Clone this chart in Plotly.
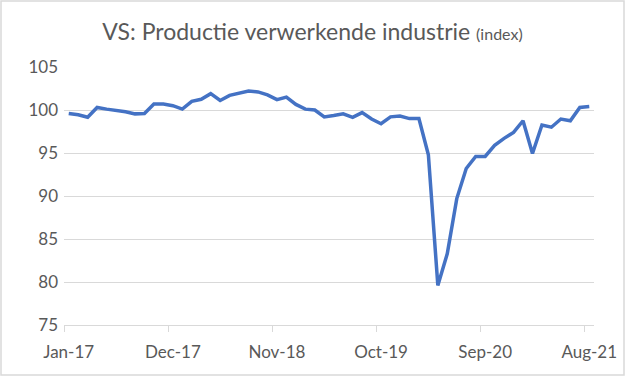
import plotly.graph_objects as go

months = ["Jan","Feb","Mar","Apr","May","Jun","Jul","Aug","Sep","Oct","Nov","Dec"]
labels = []
for yr in range(17, 22):
    for m in months:
        labels.append(f"{m}-{yr}")
labels = labels[:56]  # Jan-17 .. Aug-21

values = [99.6, 99.45, 99.15, 100.3, 100.1, 100.0, 99.8, 99.55, 99.6, 100.7,
          100.7, 100.5, 100.1, 101.0, 101.25, 101.9, 101.1, 101.7, 101.9, 102.2,
          102.1, 101.75, 101.2, 101.5, 100.65, 100.1, 100.0, 99.2, 99.35, 99.55,
          99.15, 99.7, 98.95, 98.4, 99.2, 99.3, 99.0, 99.0, 94.8, 79.6,
          83.3, 89.7, 93.2, 94.6, 94.6, 95.9, 96.7, 97.4, 98.75, 94.95,
          98.25, 98.0, 98.95, 98.75, 100.3, 100.4]

tick_idx = [0, 11, 22, 33, 44, 55]
tick_text = [labels[i] for i in tick_idx]
y_ticks = [75, 80, 85, 90, 95, 100, 105]

x = list(range(len(values)))

fig = go.Figure()
fig.add_trace(go.Scatter(x=x, y=values, mode="lines",
                         line=dict(color="#4472C4", width=3.5),
                         hoverinfo="skip", showlegend=False))

ml, mr, mt, mb = 64, 31, 67, 51
W, H = 625, 376
pw, ph = W - ml - mr, H - mt - mb

fig.update_layout(
    width=W, height=H,
    margin=dict(l=ml, r=mr, t=mt, b=mb, autoexpand=False),
    paper_bgcolor="white", plot_bgcolor="white",
    font=dict(family="Lato, Open Sans, sans-serif", color="#595959", size=17),
    title=dict(
        text="VS: Productie verwerkende industrie <span style='font-size:16px'>(index)</span>",
        x=0.5, xanchor="center", y=0.915, yanchor="middle",
        font=dict(size=23, color="#595959", family="Lato, Open Sans, sans-serif"),
    ),
    xaxis=dict(
        range=[-0.5, len(values) - 0.5],
        tickmode="array", tickvals=tick_idx, ticktext=tick_text,
        ticks="", showgrid=False, zeroline=False,
        showline=True, linecolor="#d9d9d9", linewidth=1,
        minor=dict(tickmode="array", tickvals=[i - 0.5 for i in tick_idx],
                   ticks="outside", ticklen=6, tickcolor="#d9d9d9", showgrid=False),
        tickfont=dict(size=17, color="#595959"),
        ticklabelstandoff=12,
    ),
    yaxis=dict(
        range=[75, 105], tickmode="array", tickvals=y_ticks,
        showgrid=True, gridcolor="#d9d9d9", gridwidth=1,
        zeroline=False, showline=False, ticks="",
        tickfont=dict(size=17, color="#595959"),
        ticklabelstandoff=5,
    ),
    shapes=[dict(type="rect", xref="paper", yref="paper",
                 x0=-(ml - 1) / pw, x1=1 + (mr - 1) / pw,
                 y0=-(mb - 1) / ph, y1=1 + (mt - 1) / ph,
                 line=dict(color="#d9d9d9", width=1.5), layer="below")],
)

fig.write_html("out.html", config={"displayModeBar": False},
               post_script="document.body.style.margin='0';")
